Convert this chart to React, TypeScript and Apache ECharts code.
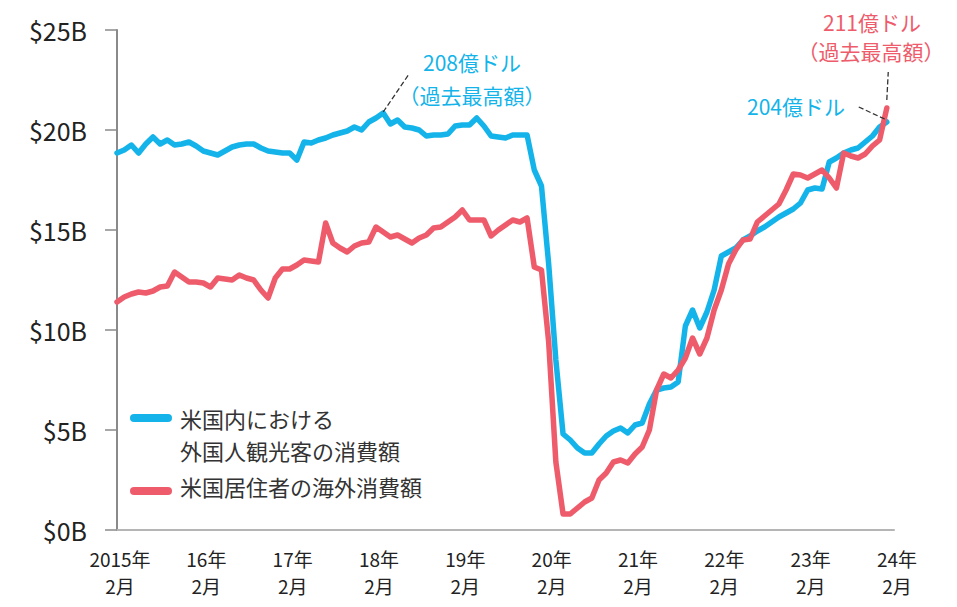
import React, { useEffect, useRef } from "react";
import * as echarts from "echarts";

// Monthly values, Feb 2015 (index 0) to Jan 2024 (index 107), US$ billions
const inboundSpending = [
  18.85, 19.0, 19.25, 18.85, 19.3, 19.65, 19.3, 19.5, 19.25, 19.3,
  19.4, 19.2, 18.95, 18.85, 18.75, 18.95, 19.15, 19.25, 19.3, 19.3,
  19.1, 18.95, 18.9, 18.85, 18.85, 18.5, 19.4, 19.35, 19.5, 19.6,
  19.75, 19.85, 19.95, 20.15, 20.0, 20.4, 20.6, 20.85, 20.3, 20.5,
  20.15, 20.1, 20.0, 19.7, 19.75, 19.75, 19.8, 20.2, 20.25, 20.25,
  20.6, 20.2, 19.7, 19.65, 19.6, 19.75, 19.75, 19.75, 18.0, 17.2,
  13.3, 8.5, 4.8, 4.5, 4.1, 3.85, 3.85, 4.3, 4.7, 4.95,
  5.1, 4.85, 5.25, 5.35, 6.3, 7.0, 7.1, 7.15, 7.4, 10.2,
  11.0, 10.1, 10.9, 12.0, 13.7, 13.9, 14.1, 14.5, 14.7, 14.95,
  15.15, 15.4, 15.65, 15.85, 16.05, 16.35, 17.0, 17.1, 17.05, 18.4,
  18.6, 18.85, 19.0, 19.1, 19.4, 19.7, 20.15, 20.4,
];

const outboundSpending = [
  11.4, 11.65, 11.8, 11.9, 11.85, 11.95, 12.15, 12.2, 12.9, 12.65,
  12.4, 12.4, 12.35, 12.15, 12.6, 12.55, 12.5, 12.75, 12.6, 12.5,
  12.0, 11.6, 12.6, 13.05, 13.05, 13.25, 13.5, 13.45, 13.4, 15.35,
  14.35, 14.1, 13.9, 14.2, 14.35, 14.4, 15.15, 14.9, 14.65, 14.75,
  14.55, 14.35, 14.6, 14.75, 15.1, 15.15, 15.4, 15.65, 16.0, 15.5,
  15.5, 15.5, 14.7, 15.0, 15.25, 15.5, 15.4, 15.6, 13.15, 13.0,
  9.4, 3.4, 0.8, 0.8, 1.1, 1.4, 1.6, 2.5, 2.85, 3.4,
  3.5, 3.35, 3.8, 4.15, 5.0, 7.0, 7.8, 7.6, 8.0, 8.6,
  9.6, 8.8, 9.6, 11.0, 12.0, 13.3, 14.0, 14.5, 14.55, 15.4,
  15.7, 16.0, 16.3, 17.0, 17.8, 17.75, 17.6, 17.8, 18.0, 17.6,
  17.1, 18.85, 18.7, 18.6, 18.8, 19.2, 19.5, 21.1,
];

const xTickLabels = [
  "2015年\n2月", "16年\n2月", "17年\n2月", "18年\n2月", "19年\n2月",
  "20年\n2月", "21年\n2月", "22年\n2月", "23年\n2月", "24年\n2月",
];

const seriesNames = ["米国内における\n外国人観光客の消費額", "米国居住者の海外消費額"];

const BLUE = "#14b4ea";
const RED = "#ee5c6c";
const FONT = "'Noto Sans CJK JP', 'Noto Sans', sans-serif";

export default function App() {
  const ref = useRef<HTMLDivElement>(null);

  useEffect(() => {
    if (!ref.current) return;
    const chart = echarts.init(ref.current, null, { renderer: "svg" });
    const toPairs = (arr: number[]) => arr.map((v, i) => [i, v]);
    const dashed = { type: "dashed" as const, color: "#333", width: 1.3 };

    chart.setOption({
      animation: false,
      grid: { left: 117, right: 63, top: 30, bottom: 77, containLabel: false },
      xAxis: {
        type: "value",
        min: 0,
        max: 108,
        interval: 12,
        axisLine: { show: true, lineStyle: { color: "#b5b5b5", width: 2 } },
        axisTick: { show: false },
        splitLine: { show: false },
        axisLabel: {
          margin: 15,
          color: "#222",
          fontFamily: FONT,
          fontSize: 19,
          lineHeight: 27,
          padding: [0, 0, 0, 6],
          formatter: (v: number) => xTickLabels[Math.round(v / 12)] ?? "",
        },
      },
      yAxis: {
        type: "value",
        min: 0,
        max: 25,
        interval: 5,
        axisLine: { show: true, lineStyle: { color: "#8a8a8a", width: 2 } },
        axisTick: { show: true, length: 12, lineStyle: { color: "#8a8a8a", width: 1.5 } },
        splitLine: { show: false },
        axisLabel: {
          margin: 30,
          color: "#222",
          fontFamily: FONT,
          fontSize: 25,
          formatter: (v: number) => `$${v}B`,
        },
      },
      series: [
        {
          name: seriesNames[0],
          type: "line",
          data: toPairs(inboundSpending),
          showSymbol: false,
          lineStyle: { color: BLUE, width: 5.5, join: "round", cap: "round" },
          itemStyle: { color: BLUE },
          z: 2,
          markLine: {
            silent: true,
            symbol: "none",
            label: { show: false },
            lineStyle: dashed,
            data: [
              [{ coord: [37, 20.9] }, { coord: [40.5, 22.75] }],
              [{ coord: [103.1, 21.15] }, { coord: [107, 20.5] }],
            ],
          },
        },
        {
          name: seriesNames[1],
          type: "line",
          data: toPairs(outboundSpending),
          showSymbol: false,
          lineStyle: { color: RED, width: 5.5, join: "round", cap: "round" },
          itemStyle: { color: RED },
          z: 3,
          markLine: {
            silent: true,
            symbol: "none",
            label: { show: false },
            lineStyle: dashed,
            data: [[{ coord: [107, 21.5] }, { coord: [107.2, 22.9] }]],
          },
        },
      ],
      graphic: [
        // legend
        { type: "rect", shape: { x: 130, y: 414, width: 42, height: 8, r: 4 }, style: { fill: BLUE } },
        {
          type: "text",
          x: 180,
          y: 402,
          style: { text: seriesNames[0], fill: "#333", font: `22px ${FONT}`, lineHeight: 32 },
        },
        { type: "rect", shape: { x: 130, y: 487, width: 42, height: 8, r: 4 }, style: { fill: RED } },
        {
          type: "text",
          x: 180,
          y: 475,
          style: { text: seriesNames[1], fill: "#333", font: `22px ${FONT}` },
        },
        // annotations
        {
          type: "text",
          x: 472,
          y: 62,
          style: { text: "208億ドル", fill: BLUE, font: `21px ${FONT}`, align: "center", verticalAlign: "middle" },
        },
        {
          type: "text",
          x: 472,
          y: 95,
          style: { text: "（過去最高額）", fill: BLUE, font: `21px ${FONT}`, align: "center", verticalAlign: "middle" },
        },
        {
          type: "text",
          x: 872,
          y: 22,
          style: { text: "211億ドル", fill: RED, font: `21px ${FONT}`, align: "center", verticalAlign: "middle" },
        },
        {
          type: "text",
          x: 871,
          y: 51,
          style: { text: "（過去最高額）", fill: RED, font: `21px ${FONT}`, align: "center", verticalAlign: "middle" },
        },
        {
          type: "text",
          x: 796,
          y: 106,
          style: { text: "204億ドル", fill: BLUE, font: `21px ${FONT}`, align: "center", verticalAlign: "middle" },
        },
      ],
    });
    return () => chart.dispose();
  }, []);

  return <div ref={ref} style={{ width: 957, height: 607, position: "absolute", left: 0, top: 0 }} />;
}
